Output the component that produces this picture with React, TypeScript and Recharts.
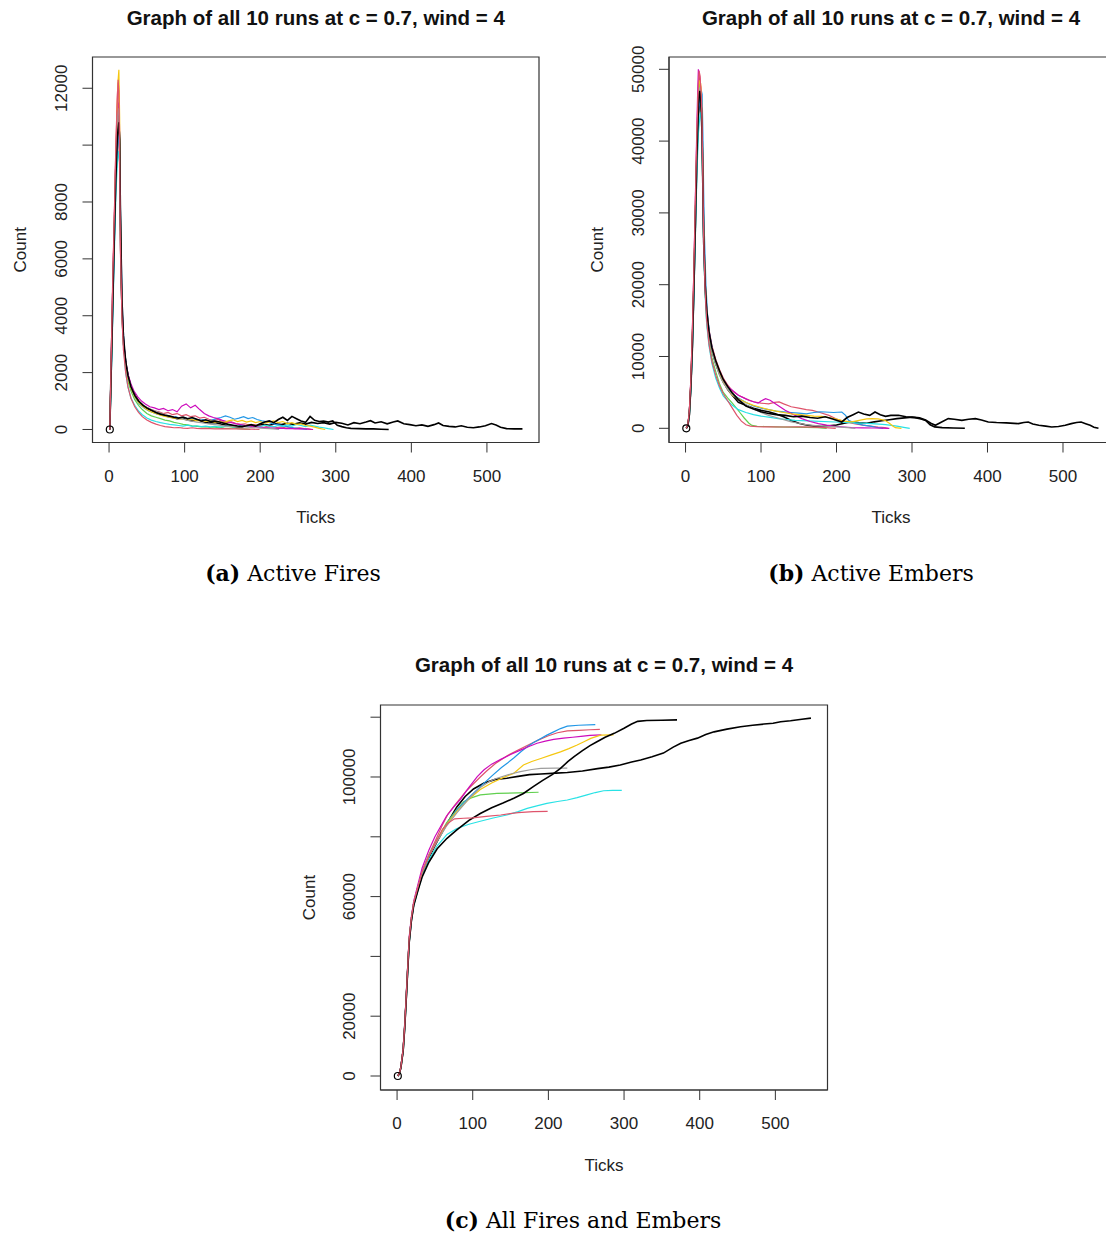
import React from 'react';
import { LineChart, Line, XAxis, YAxis, ReferenceArea } from 'recharts';

// ---------- shared axis values ----------
const X_DOMAIN: [number, number] = [-21.9, 568.9];
const X_TICKS = [0, 100, 200, 300, 400, 500];

const RUN_COLORS = ['#000000', '#DF536B', '#61D04F', '#2297E6', '#28E2E5', '#CD0BBC', '#F5C710', '#9E9E9E', '#000000', '#DF536B'];

const TITLE = 'Graph of all 10 runs at c = 0.7, wind = 4';

// ---------- (a) Active Fires ----------
const FIRES_Y_DOMAIN: [number, number] = [-458, 13099];
const FIRES_Y_TICKS = [0, 2000, 4000, 6000, 8000, 10000, 12000];
const FIRES_Y_LABELED = [0, 2000, 4000, 6000, 8000, 12000];

const FIRES_R1 = [[1,0],[3,2500],[5,4900],[7,7000],[9,9300],[11,10600],[13,11000],[14,9900],[15,7200],[16,5200],[18,3600],[20,2800],[23,2200],[26,1800],[30,1450],[35,1180],[40,960],[46,820],[52,700],[58,640],[64,560],[70,520],[77,470],[84,420],[90,380],[97,400],[104,330],[111,300],[118,340],[125,260],[132,230],[140,250],[148,190],[156,140],[164,110],[172,80],[180,120],[188,160],[196,130],[204,180],[212,150],[220,200],[228,170],[236,220],[244,180],[252,230],[260,190],[268,250],[276,210],[284,240],[292,190],[300,250],[308,220],[316,160],[324,240],[332,200],[340,260],[346,310],[352,230],[360,270],[368,200],[376,260],[382,300],[390,200],[398,170],[406,130],[414,160],[422,110],[430,170],[436,230],[442,140],[450,110],[458,90],[466,130],[474,80],[482,60],[490,90],[498,130],[506,210],[512,160],[518,80],[526,30],[536,20],[547,20]];
const FIRES_R2 = [[1,0],[3,2800],[5,5500],[7,7600],[9,10000],[11,11800],[12,12200],[13,11600],[14,9000],[15,6300],[17,4100],[19,3000],[22,2300],[25,1850],[29,1500],[33,1250],[38,1050],[43,900],[48,800],[54,720],[60,660],[66,620],[72,560],[78,600],[84,520],[90,560],[96,480],[102,520],[108,450],[114,480],[120,400],[126,430],[132,360],[138,320],[144,350],[150,280],[156,240],[162,270],[168,210],[174,180],[180,200],[186,150],[192,170],[198,120],[204,140],[210,90],[216,110],[222,70],[228,90],[234,50],[240,70],[246,40],[252,60],[258,30],[263,20],[268,0]];
const FIRES_R3 = [[1,0],[3,2300],[5,4700],[7,7100],[9,9200],[11,10800],[13,11200],[14,10000],[15,7000],[17,4300],[19,3000],[22,2200],[25,1700],[29,1350],[34,1050],[39,850],[44,700],[50,560],[56,480],[62,430],[68,380],[74,330],[80,300],[86,250],[92,220],[98,180],[104,160],[110,130],[116,110],[122,90],[128,100],[134,70],[140,60],[146,80],[152,50],[158,40],[164,60],[170,30],[176,20],[182,10],[187,0]];
const FIRES_R4 = [[1,0],[3,2000],[5,4300],[7,6500],[9,8600],[11,9800],[13,10400],[14,9800],[15,8000],[16,6200],[18,4000],[20,2900],[23,2200],[26,1750],[30,1400],[35,1100],[40,900],[46,760],[52,660],[58,600],[64,540],[70,500],[76,460],[82,420],[88,450],[94,390],[100,420],[106,360],[112,380],[118,330],[124,350],[130,300],[136,330],[142,380],[148,420],[154,480],[160,430],[166,360],[172,400],[178,450],[184,380],[190,420],[196,350],[202,300],[208,280],[214,220],[220,180],[226,150],[232,120],[238,90],[244,60],[250,40],[256,20],[262,0]];
const FIRES_R5 = [[1,0],[3,1900],[5,4000],[7,6200],[9,8200],[11,9400],[13,9800],[14,9300],[15,7600],[17,4500],[19,3000],[22,2000],[25,1500],[29,1100],[34,850],[39,650],[44,520],[50,400],[56,330],[62,280],[68,240],[74,210],[80,180],[86,160],[92,140],[98,120],[104,150],[110,110],[116,130],[122,100],[128,120],[134,90],[140,110],[146,80],[152,100],[158,130],[164,90],[170,110],[176,150],[182,120],[188,90],[194,130],[200,100],[206,150],[212,120],[218,90],[224,140],[230,110],[236,160],[242,120],[248,180],[254,140],[260,100],[266,150],[272,120],[278,80],[284,60],[290,30],[297,0]];
const FIRES_R6 = [[1,0],[3,2600],[5,5200],[7,7400],[9,9700],[11,11200],[13,11500],[14,10500],[15,7500],[17,4400],[19,3200],[22,2400],[25,1950],[29,1600],[33,1350],[38,1150],[43,1000],[48,900],[54,800],[60,760],[66,700],[72,740],[78,660],[84,700],[90,620],[96,820],[102,900],[108,760],[114,850],[120,700],[126,560],[132,480],[138,420],[144,380],[150,320],[156,280],[162,240],[168,200],[174,170],[180,140],[186,120],[192,100],[198,80],[204,70],[210,60],[216,50],[222,40],[228,50],[234,30],[240,40],[246,20],[252,30],[258,20],[264,10],[270,0]];
const FIRES_R7 = [[1,0],[3,2400],[5,5000],[7,7300],[9,9600],[11,11400],[12,12300],[13,12650],[14,11000],[15,7600],[17,4300],[19,3100],[22,2300],[25,1800],[29,1450],[34,1150],[39,950],[44,820],[50,700],[56,620],[62,560],[68,500],[74,460],[80,430],[86,400],[92,380],[98,360],[104,330],[110,350],[116,300],[122,320],[128,280],[134,300],[140,260],[146,280],[152,240],[158,300],[164,340],[170,280],[176,320],[182,260],[188,300],[194,240],[200,280],[206,220],[212,260],[218,300],[224,240],[230,280],[236,200],[242,240],[248,180],[254,200],[260,140],[266,120],[272,80],[278,40],[286,0]];
const FIRES_R8 = [[1,0],[3,2500],[5,5000],[7,7200],[9,9400],[11,11000],[13,11300],[14,10200],[15,7100],[17,4200],[19,3000],[22,2300],[25,1850],[29,1500],[34,1200],[39,1000],[44,880],[50,780],[56,700],[62,640],[68,580],[74,520],[80,480],[86,440],[92,400],[98,360],[104,320],[110,290],[116,260],[122,240],[128,210],[134,190],[140,170],[146,150],[152,130],[158,110],[164,120],[170,90],[176,100],[182,80],[188,70],[194,60],[200,50],[206,40],[212,30],[218,20],[225,0]];
const FIRES_R9 = [[1,0],[3,2200],[5,4500],[7,6800],[9,8800],[11,10300],[13,10800],[14,10200],[15,7800],[17,4600],[19,3300],[22,2400],[25,1900],[29,1500],[34,1200],[39,1000],[45,850],[50,760],[56,680],[62,600],[68,540],[74,500],[80,470],[86,430],[92,400],[98,440],[104,380],[110,420],[116,360],[122,300],[128,340],[134,280],[140,300],[146,260],[152,220],[158,180],[164,150],[170,120],[176,100],[182,130],[188,170],[194,120],[200,200],[206,260],[212,300],[218,240],[224,350],[230,430],[236,320],[242,460],[248,380],[254,300],[260,250],[266,460],[272,320],[278,280],[284,300],[290,260],[296,300],[302,150],[308,100],[314,60],[320,40],[330,30],[340,20],[350,20],[360,10],[370,0]];
const FIRES_R10 = [[1,0],[3,2700],[5,5300],[7,7500],[9,9900],[11,11600],[12,12300],[13,11900],[14,9400],[15,6600],[17,4000],[19,2800],[22,2000],[25,1500],[29,1100],[34,800],[39,600],[44,450],[50,330],[56,250],[62,190],[68,140],[74,100],[80,80],[86,60],[92,70],[98,50],[104,40],[110,60],[116,40],[122,30],[128,40],[134,30],[140,20],[150,30],[160,20],[170,20],[180,10],[190,10],[199,0]];

// ---------- (b) Active Embers ----------
const EMBERS_Y_DOMAIN: [number, number] = [-1978, 51713];
const EMBERS_Y_TICKS = [0, 10000, 20000, 30000, 40000, 50000];
const EMBERS_Y_LABELED = [0, 10000, 20000, 30000, 40000, 50000];

const EMBERS_R1 = [[1,0],[3,300],[5,1800],[7,5500],[9,11000],[11,19000],[13,28000],[15,37000],[17,43500],[19,46000],[20,45500],[21,44000],[22,40000],[23,33000],[24,26000],[26,19500],[28,16000],[31,13200],[35,10800],[40,9000],[45,7600],[50,6500],[56,5400],[62,4600],[70,3600],[80,3200],[90,2800],[100,2500],[110,2300],[120,2000],[130,1600],[140,1100],[150,700],[160,450],[170,300],[180,250],[190,350],[200,450],[210,700],[220,900],[230,750],[240,700],[250,900],[260,1050],[270,1200],[280,1350],[290,1450],[300,1550],[310,1450],[318,1150],[325,700],[331,420],[338,800],[348,1350],[356,1250],[366,1100],[375,1250],[384,1350],[392,1150],[401,880],[412,800],[425,760],[441,650],[448,800],[454,880],[460,600],[468,420],[477,300],[485,190],[494,250],[503,420],[511,650],[518,800],[524,880],[530,650],[536,420],[541,150],[547,0]];
const EMBERS_R2 = [[1,0],[3,450],[5,2200],[7,6500],[9,13000],[11,21500],[13,31000],[15,40500],[17,47500],[18,49500],[19,49000],[20,47500],[21,46000],[22,42000],[23,35000],[24,27500],[26,20500],[28,16800],[31,13800],[35,11500],[40,9600],[45,8200],[50,7000],[56,6000],[62,5200],[70,4600],[80,4100],[90,3700],[100,3500],[110,3400],[118,3600],[124,3670],[130,3400],[140,3000],[150,2800],[160,2600],[168,2500],[178,2200],[190,1800],[200,1300],[212,880],[225,600],[235,450],[247,280],[255,180],[264,90],[268,0]];
const EMBERS_R3 = [[1,0],[3,400],[5,2000],[7,6200],[9,12500],[11,20500],[13,30000],[15,39000],[17,46000],[18,47500],[19,48000],[20,47000],[21,45000],[22,40500],[23,33500],[24,26500],[26,19000],[28,15000],[31,12000],[35,9800],[40,7900],[45,6200],[50,5000],[56,4200],[62,3500],[66,3000],[72,2200],[78,1400],[84,700],[88,400],[95,280],[105,250],[120,200],[140,150],[160,120],[175,80],[187,0]];
const EMBERS_R4 = [[1,0],[3,350],[5,1900],[7,5900],[9,11800],[11,19800],[13,29000],[15,38500],[17,44000],[19,45500],[20,46500],[21,47000],[22,46500],[23,41000],[24,33000],[25,27000],[27,20000],[29,16000],[32,13000],[36,10800],[40,9000],[45,7500],[50,6400],[56,5500],[62,4800],[70,4200],[80,3600],[90,3100],[100,2800],[110,2600],[120,2400],[130,2300],[140,2200],[150,2100],[160,2000],[170,2200],[178,2300],[185,2270],[196,2200],[207,2270],[212,1800],[216,1110],[225,700],[235,450],[245,300],[252,150],[262,0]];
const EMBERS_R5 = [[1,0],[3,300],[5,1700],[7,5200],[9,10500],[11,18000],[13,26500],[15,35000],[17,41000],[19,43500],[20,44000],[21,43000],[22,39000],[23,32000],[24,25500],[26,18500],[28,14500],[31,11500],[35,9000],[40,7000],[45,5600],[50,4500],[56,3800],[62,3200],[70,2600],[80,2200],[90,1900],[100,1700],[110,1550],[125,1300],[145,1110],[170,1000],[198,880],[225,760],[247,650],[265,500],[280,300],[291,100],[297,0]];
const EMBERS_R6 = [[1,0],[3,500],[5,2300],[7,6800],[9,13500],[11,22000],[13,32000],[15,42000],[16,46500],[17,50000],[18,49500],[19,48500],[20,47500],[21,45500],[22,41500],[23,34500],[24,27000],[26,20000],[28,16500],[31,13500],[35,11200],[40,9300],[45,7800],[50,6700],[56,5800],[62,5300],[70,4600],[78,4200],[84,3900],[90,3700],[96,3500],[100,3800],[106,4130],[112,3900],[118,3500],[125,3000],[132,2500],[143,1900],[154,1350],[165,950],[176,650],[187,450],[198,280],[210,180],[220,90],[235,60],[250,40],[260,20],[270,0]];
const EMBERS_R7 = [[1,0],[3,400],[5,2100],[7,6300],[9,12800],[11,21000],[13,30500],[15,40000],[17,46500],[18,48000],[19,48500],[20,48000],[21,46500],[22,42500],[23,35500],[24,28000],[26,20500],[28,16500],[31,13300],[35,11000],[40,9200],[45,7600],[50,6400],[56,5400],[62,4600],[70,4100],[80,3600],[90,3200],[100,2900],[110,2600],[120,2400],[130,2200],[140,2000],[150,1900],[160,1800],[170,1700],[180,1650],[190,1500],[200,1300],[210,1000],[220,900],[230,1100],[240,1300],[247,1350],[255,1300],[264,1110],[270,700],[275,300],[278,90],[286,0]];
const EMBERS_R8 = [[1,0],[3,380],[5,2000],[7,6000],[9,12200],[11,20200],[13,29800],[15,39000],[17,45500],[18,47000],[19,47500],[20,47000],[21,45500],[22,41000],[23,34000],[24,27000],[26,19800],[28,16000],[31,13000],[35,10700],[40,8900],[45,7400],[50,6300],[56,5400],[62,4700],[70,4000],[80,3300],[90,2700],[100,2200],[110,1800],[120,1500],[130,1200],[140,900],[150,700],[160,500],[175,350],[190,250],[205,150],[215,100],[225,0]];
const EMBERS_R9 = [[1,0],[3,350],[5,1900],[7,5800],[9,11500],[11,19500],[13,28500],[15,38000],[17,44500],[18,46500],[19,47000],[20,46000],[21,44500],[22,41000],[23,34000],[24,27000],[26,20000],[28,16500],[31,13500],[35,11200],[40,9400],[45,8000],[50,6800],[56,5800],[62,4900],[70,4000],[80,3100],[90,2700],[100,2300],[110,2050],[120,1900],[132,1800],[143,1600],[154,1700],[165,1500],[175,1400],[185,1600],[195,1300],[207,880],[214,1500],[222,1900],[229,2270],[236,2000],[244,1800],[251,2270],[258,1900],[265,1670],[272,1800],[282,1810],[292,1600],[304,1490],[312,1300],[318,1100],[324,500],[330,200],[340,100],[355,50],[370,0]];
const EMBERS_R10 = [[1,0],[3,480],[5,2300],[7,6700],[9,13300],[11,21800],[13,31500],[15,41000],[17,48000],[18,49800],[19,49200],[20,47800],[21,46000],[22,41500],[23,34000],[24,26500],[26,19000],[28,15000],[31,11800],[35,9300],[40,7400],[45,5900],[50,4800],[56,3800],[62,2800],[68,1800],[74,1000],[80,500],[86,300],[95,220],[110,200],[130,180],[150,200],[170,150],[185,100],[199,0]];

// ---------- (c) All Fires and Embers ----------
const TOTAL_Y_DOMAIN: [number, number] = [-4682, 124080];
const TOTAL_Y_TICKS = [0, 20000, 40000, 60000, 80000, 100000, 120000];
const TOTAL_Y_LABELED = [0, 20000, 60000, 100000];

const TOTAL_R1 = [[1,0],[3,800],[5,2800],[8,8500],[10,16000],[12,25500],[14,35500],[16,45000],[19,52500],[22,57500],[27,62000],[33,67500],[42,73000],[53,78500],[65,84000],[79,90000],[90,93500],[101,96000],[115,98000],[130,99200],[145,99600],[160,100200],[175,100800],[190,101000],[210,101300],[225,101500],[245,102000],[265,102800],[280,103300],[295,104000],[310,105000],[322,105700],[337,106800],[352,108000],[365,110000],[375,111300],[386,112200],[397,113000],[408,114200],[419,115100],[436,116000],[454,116800],[470,117300],[485,117700],[497,118000],[507,118500],[520,118800],[535,119300],[547,119700]];
const TOTAL_R2 = [[1,0],[3,900],[5,3000],[8,9000],[10,16500],[12,26000],[14,36000],[16,46000],[19,53000],[22,58000],[27,62800],[33,68500],[42,74000],[53,80000],[60,84000],[67,87500],[76,90500],[84,93000],[92,95500],[100,97500],[110,100000],[118,101900],[130,104500],[146,107200],[160,109000],[174,110800],[188,112500],[200,113800],[212,114800],[225,115400],[240,115600],[255,115800],[268,115900]];
const TOTAL_R3 = [[1,0],[3,900],[5,3000],[8,9000],[10,16500],[12,26000],[14,36000],[16,46000],[19,53000],[22,58000],[27,62600],[33,68200],[42,73800],[53,79000],[65,84500],[79,89200],[88,91700],[98,93000],[110,94000],[132,94500],[160,94700],[187,94900]];
const TOTAL_R4 = [[1,0],[3,900],[5,2900],[8,8800],[10,16300],[12,25800],[14,35800],[16,45500],[19,52800],[22,57800],[27,62500],[33,68000],[42,73500],[53,79000],[65,84000],[79,89000],[95,93200],[110,96800],[125,100300],[138,103200],[146,104700],[155,106500],[164,108500],[172,110100],[181,111600],[190,112900],[198,114000],[207,115100],[216,116200],[225,117000],[240,117300],[262,117500]];
const TOTAL_R5 = [[1,0],[3,800],[5,2700],[8,8300],[10,15800],[12,25000],[14,35000],[16,44500],[19,52000],[22,57000],[27,61500],[33,66800],[42,72300],[53,77000],[66,80800],[79,82800],[95,84200],[110,85200],[127,86300],[145,87300],[160,88400],[172,89500],[186,90400],[198,91200],[212,91800],[225,92300],[238,93100],[251,94000],[262,94800],[273,95400],[285,95500],[297,95500]];
const TOTAL_R6 = [[1,0],[3,1000],[5,3100],[8,9200],[10,16800],[12,26500],[14,36500],[16,46500],[19,53500],[22,58500],[27,63500],[33,69500],[42,75500],[50,80000],[57,83200],[65,86800],[75,90000],[84,92600],[95,96500],[106,100100],[115,102400],[125,104300],[137,105900],[150,107500],[163,109000],[175,110300],[185,111300],[196,112000],[207,112600],[220,113000],[232,113300],[243,113600],[255,113900],[270,114100]];
const TOTAL_R7 = [[1,0],[3,900],[5,2900],[8,8800],[10,16300],[12,25800],[14,35800],[16,45500],[19,52800],[22,57800],[27,62500],[33,68000],[42,73600],[53,78800],[65,84000],[79,88500],[95,92600],[110,95800],[125,98000],[140,99800],[154,101200],[167,104000],[178,105200],[190,106200],[203,107300],[216,108400],[227,109500],[238,110700],[247,111800],[256,112900],[269,114000],[286,114100]];
const TOTAL_R8 = [[1,0],[3,850],[5,2850],[8,8700],[10,16200],[12,25700],[14,35700],[16,45300],[19,52700],[22,57700],[27,62400],[33,67900],[42,73500],[53,78500],[65,83500],[79,88000],[95,92800],[110,96500],[122,98500],[132,99600],[150,101000],[163,101800],[178,102500],[190,102900],[210,103000],[225,103000]];
const TOTAL_R9 = [[1,0],[3,800],[5,2700],[8,8300],[10,15800],[12,25000],[14,35000],[16,44500],[19,52000],[22,57000],[27,61500],[33,66500],[42,71500],[53,76000],[66,79500],[79,82300],[95,85500],[110,87800],[125,89700],[140,91300],[155,93000],[167,94500],[180,96800],[192,98800],[205,100800],[216,102900],[226,105200],[234,106800],[245,108800],[255,110500],[263,111600],[275,113300],[287,114600],[300,116300],[310,117700],[318,118600],[330,118900],[350,119000],[370,119100]];
const TOTAL_R10 = [[1,0],[3,850],[5,2900],[8,8800],[10,16400],[12,25900],[14,35900],[16,45600],[19,52900],[22,57900],[27,62600],[33,68100],[42,73600],[53,79000],[60,82500],[67,84500],[76,86000],[88,86200],[100,86300],[118,86800],[137,87300],[160,88100],[180,88400],[199,88500]];

const FIRES_RUNS = [FIRES_R1, FIRES_R2, FIRES_R3, FIRES_R4, FIRES_R5, FIRES_R6, FIRES_R7, FIRES_R8, FIRES_R9, FIRES_R10];
const EMBERS_RUNS = [EMBERS_R1, EMBERS_R2, EMBERS_R3, EMBERS_R4, EMBERS_R5, EMBERS_R6, EMBERS_R7, EMBERS_R8, EMBERS_R9, EMBERS_R10];
const TOTAL_RUNS = [TOTAL_R1, TOTAL_R2, TOTAL_R3, TOTAL_R4, TOTAL_R5, TOTAL_R6, TOTAL_R7, TOTAL_R8, TOTAL_R9, TOTAL_R10];

// ---------- rendering ----------
const SANS = '"Liberation Sans", Arial, sans-serif';
const SERIF = '"DejaVu Serif", serif';
const AXIS_COLOR = '#333';
const TICK_SIZE = 10;

type Box = { l: number; r: number; t: number; b: number };

const toPoints = (arr: number[][]) => arr.map(([t, v]) => ({ t, v }));

const XTick = (props: any) => {
  const { x, y, payload } = props;
  return (
    <text x={x} y={y + 29} textAnchor="middle" fontSize={17} fill="#222" fontFamily={SANS}>
      {payload.value}
    </text>
  );
};

const makeYTick = (labeled: number[]) => (props: any) => {
  const { x, y, payload } = props;
  if (!labeled.includes(payload.value)) return <g />;
  const bx = x - 15;
  return (
    <text x={bx} y={y} transform={`rotate(-90 ${bx} ${y})`} textAnchor="middle" fontSize={17} fill="#222" fontFamily={SANS}>
      {payload.value}
    </text>
  );
};

function Panel(props: {
  left: number; top: number; width: number; height: number; box: Box;
  yDomain: [number, number]; yTicks: number[]; yLabeled: number[]; runs: number[][][];
}) {
  const { left, top, width, height, box, yDomain, yTicks, yLabeled, runs } = props;
  const margin = { top: box.t - top, right: left + width - box.r, bottom: 0, left: 0 };
  const yAxisWidth = box.l - left;
  const xAxisHeight = top + height - box.b;
  const YTick = makeYTick(yLabeled);
  return (
    <div style={{ position: 'absolute', left, top, width, height }}>
      <LineChart width={width} height={height} margin={margin}>
        <XAxis
          dataKey="t" type="number" domain={X_DOMAIN} ticks={X_TICKS} allowDataOverflow interval={0}
          height={xAxisHeight} tickSize={TICK_SIZE} tickMargin={0}
          axisLine={{ stroke: AXIS_COLOR }} tickLine={{ stroke: AXIS_COLOR }} tick={XTick}
        />
        <YAxis
          dataKey="v" type="number" domain={yDomain} ticks={yTicks} allowDataOverflow interval={0}
          width={yAxisWidth} tickSize={TICK_SIZE} tickMargin={0}
          axisLine={{ stroke: AXIS_COLOR }} tickLine={{ stroke: AXIS_COLOR }} tick={YTick}
        />
        <ReferenceArea x1={X_DOMAIN[0]} x2={X_DOMAIN[1]} y1={yDomain[0]} y2={yDomain[1]} fill="none" stroke={AXIS_COLOR} strokeWidth={1.2} ifOverflow="visible" />
        {runs.map((run, i) => (
          <Line
            key={i}
            data={toPoints(run)}
            dataKey="v"
            type="linear"
            stroke={RUN_COLORS[i]}
            strokeWidth={RUN_COLORS[i] === '#000000' ? 1.6 : 1.2}
            isAnimationActive={false}
            dot={
              i === 0
                ? (p: any) =>
                    p.index === 0 ? (
                      <circle key={`d${p.index}`} cx={p.cx} cy={p.cy} r={3.5} fill="none" stroke="#000" strokeWidth={1.2} />
                    ) : (
                      <g key={`d${p.index}`} />
                    )
                : false
            }
            activeDot={false}
          />
        ))}
      </LineChart>
    </div>
  );
}

const BOX_A: Box = { l: 92.5, r: 539, t: 57, b: 442.5 };
const BOX_B: Box = { l: 669, r: 1115, t: 57, b: 442.5 };
const BOX_C: Box = { l: 380.5, r: 827.5, t: 705, b: 1090 };

function Labels() {
  const title = (cx: number, y: number) => (
    <text x={cx} y={y} textAnchor="middle" fontFamily={SANS} fontWeight="bold" fontSize={20.5} fill="#111">{TITLE}</text>
  );
  const count = (bx: number, cy: number) => (
    <text x={bx} y={cy} transform={`rotate(-90 ${bx} ${cy})`} textAnchor="middle" fontFamily={SANS} fontSize={17} fill="#222">Count</text>
  );
  const ticks = (cx: number, y: number) => (
    <text x={cx} y={y} textAnchor="middle" fontFamily={SANS} fontSize={17} fill="#222">Ticks</text>
  );
  const caption = (cx: number, y: number, tag: string, text: string) => (
    <text x={cx} y={y} textAnchor="middle" fontFamily={SERIF} fontSize={22} fill="#000">
      <tspan fontWeight="bold">{tag}</tspan>
      <tspan> {text}</tspan>
    </text>
  );
  return (
    <svg width={1106} height={1236} style={{ position: 'absolute', left: 0, top: 0, pointerEvents: 'none' }}>
      {title((BOX_A.l + BOX_A.r) / 2, 25)}
      {title(891, 25)}
      {title((BOX_C.l + BOX_C.r) / 2, 671.5)}
      {count(26, (BOX_A.t + BOX_A.b) / 2)}
      {count(603, (BOX_B.t + BOX_B.b) / 2)}
      {count(314.5, (BOX_C.t + BOX_C.b) / 2)}
      {ticks((BOX_A.l + BOX_A.r) / 2, 523)}
      {ticks(891, 523)}
      {ticks((BOX_C.l + BOX_C.r) / 2, 1170.5)}
      {caption(293, 581, '(a)', 'Active Fires')}
      {caption(871, 581, '(b)', 'Active Embers')}
      {caption(583, 1228, '(c)', 'All Fires and Embers')}
    </svg>
  );
}

export default function App() {
  return (
    <div style={{ position: 'absolute', left: 0, top: 0, width: 1106, height: 1236, overflow: 'hidden', background: '#fff' }}>
      <Panel left={0} top={0} width={560} height={500} box={BOX_A} yDomain={FIRES_Y_DOMAIN} yTicks={FIRES_Y_TICKS} yLabeled={FIRES_Y_LABELED} runs={FIRES_RUNS} />
      <Panel left={580} top={0} width={560} height={500} box={BOX_B} yDomain={EMBERS_Y_DOMAIN} yTicks={EMBERS_Y_TICKS} yLabeled={EMBERS_Y_LABELED} runs={EMBERS_RUNS} />
      <Panel left={290} top={650} width={560} height={500} box={BOX_C} yDomain={TOTAL_Y_DOMAIN} yTicks={TOTAL_Y_TICKS} yLabeled={TOTAL_Y_LABELED} runs={TOTAL_RUNS} />
      <Labels />
    </div>
  );
}
